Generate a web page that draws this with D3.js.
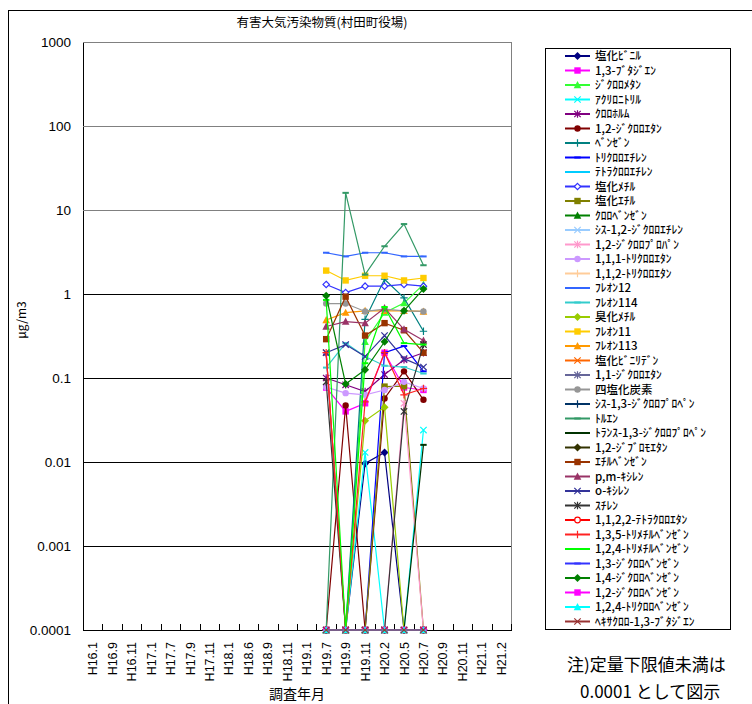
<!DOCTYPE html>
<html><head><meta charset="utf-8">
<script src="https://cdn.jsdelivr.net/npm/d3@7/dist/d3.min.js"></script>
<style>body{margin:0;background:#fff;} svg{display:block;}</style>
</head><body><svg id="c" width="752" height="704"></svg>
<script>
// ---- data ----
const title = "有害大気汚染物質(村田町役場)";
const categories = ["H16.1","H16.9","H16.11","H17.1","H17.7","H17.9","H17.11","H18.1","H18.6","H18.9","H18.11","H19.1","H19.7","H19.9","H19.11","H20.2","H20.5","H20.7","H20.9","H20.11","H21.1","H21.2"];
const measured = ["H19.7","H19.9","H19.11","H20.2","H20.5","H20.7"];
const yTicks = [0.0001,0.001,0.01,0.1,1,10,100,1000];
const yTickLabels = ["0.0001","0.001","0.01","0.1","1","10","100","1000"];
const seriesNames = ["塩化ﾋﾞﾆﾙ","1,3-ﾌﾞﾀｼﾞｴﾝ","ｼﾞｸﾛﾛﾒﾀﾝ","ｱｸﾘﾛﾆﾄﾘﾙ","ｸﾛﾛﾎﾙﾑ","1,2-ｼﾞｸﾛﾛｴﾀﾝ","ﾍﾞﾝｾﾞﾝ","ﾄﾘｸﾛﾛｴﾁﾚﾝ","ﾃﾄﾗｸﾛﾛｴﾁﾚﾝ","塩化ﾒﾁﾙ","塩化ｴﾁﾙ","ｸﾛﾛﾍﾞﾝｾﾞﾝ","ｼｽ-1,2-ｼﾞｸﾛﾛｴﾁﾚﾝ","1,2-ｼﾞｸﾛﾛﾌﾟﾛﾊﾟﾝ","1,1,1-ﾄﾘｸﾛﾛｴﾀﾝ","1,1,2-ﾄﾘｸﾛﾛｴﾀﾝ","ﾌﾚｵﾝ12","ﾌﾚｵﾝ114","臭化ﾒﾁﾙ","ﾌﾚｵﾝ11","ﾌﾚｵﾝ113","塩化ﾋﾞﾆﾘﾃﾞﾝ","1,1-ｼﾞｸﾛﾛｴﾀﾝ","四塩化炭素","ｼｽ-1,3-ｼﾞｸﾛﾛﾌﾟﾛﾍﾟﾝ","ﾄﾙｴﾝ","ﾄﾗﾝｽ-1,3-ｼﾞｸﾛﾛﾌﾟﾛﾍﾟﾝ","1,2-ｼﾞﾌﾞﾛﾓｴﾀﾝ","ｴﾁﾙﾍﾞﾝｾﾞﾝ","p,m-ｷｼﾚﾝ","o-ｷｼﾚﾝ","ｽﾁﾚﾝ","1,1,2,2-ﾃﾄﾗｸﾛﾛｴﾀﾝ","1,3,5-ﾄﾘﾒﾁﾙﾍﾞﾝｾﾞﾝ","1,2,4-ﾄﾘﾒﾁﾙﾍﾞﾝｾﾞﾝ","1,3-ｼﾞｸﾛﾛﾍﾞﾝｾﾞﾝ","1,4-ｼﾞｸﾛﾛﾍﾞﾝｾﾞﾝ","1,2-ｼﾞｸﾛﾛﾍﾞﾝｾﾞﾝ","1,2,4-ﾄﾘｸﾛﾛﾍﾞﾝｾﾞﾝ","ﾍｷｻｸﾛﾛ-1,3-ﾌﾞﾀｼﾞｴﾝ"];
// values at H19.7, H19.9, H19.11, H20.2, H20.5, H20.7 (below limit = 0.0001)
const s01 = [0.0001,0.0001,0.0096,0.013,0.0001,0.0001];
const s02 = [0.077,0.040,0.050,0.20,0.077,0.072];
const s03 = [0.0001,0.0001,0.27,0.60,0.78,1.3];
const s04 = [0.0001,0.0001,0.013,0.0001,0.0001,0.024];
const s05 = [0.10,0.083,0.069,0.11,0.165,0.20];
const s06 = [0.0001,0.047,0.0001,0.057,0.12,0.055];
const s07 = [0.0001,0.0001,0.5,1.5,0.9,0.36];
const s08 = [0.19,0.0001,0.0001,0.20,0.24,0.12];
const s09 = [0.0001,0.0001,0.0001,0.0001,0.0001,0.0001];
const s10 = [1.3,1.04,1.24,1.24,1.3,1.24];
const s11 = [0.0001,0.0001,0.0001,0.079,0.08,0.0001];
const s12 = [0.0001,0.0001,0.0001,0.0001,0.0001,0.0001];
const s13 = [0.0001,0.0001,0.0001,0.0001,0.0001,0.0001];
const s14 = [0.0001,0.0001,0.0001,0.0001,0.05,0.0001];
const s15 = [0.078,0.066,0.063,0.072,0.09,0.075];
const s16 = [0.0001,0.0001,0.0001,0.0001,0.0001,0.0001];
const s17 = [3.1,2.8,3.1,3.1,2.8,2.8];
const s18 = [0.133,0.26,0.18,0.14,0.135,0.113];
const s19 = [0.0001,0.0001,0.031,0.045,0.0001,0.0001];
const s20 = [1.9,1.45,1.65,1.65,1.45,1.55];
const s21 = [0.49,0.6,0.63,0.63,0.63,0.62];
const s22 = [0.2,0.0001,0.0001,0.0001,0.0001,0.0001];
const s23 = [0.0001,0.0001,0.0001,0.0001,0.0001,0.0001];
const s24 = [0.77,0.77,0.62,0.66,0.63,0.62];
const s25 = [0.0001,0.0001,0.0001,0.0001,0.0001,0.0001];
const s26 = [0.0001,16,1.7,3.7,6.8,2.2];
const s27 = [0.0001,0.0001,0.0001,0.0001,0.0001,0.016];
const s28 = [0.0001,0.0001,0.0001,0.0001,0.0001,0.0001];
const s29 = [0.29,0.93,0.32,0.45,0.37,0.2];
const s30 = [0.41,0.47,0.45,0.68,0.38,0.28];
const s31 = [0.2,0.25,0.18,0.32,0.17,0.135];
const s32 = [0.09,0.0001,0.0001,0.0001,0.04,0.25];
const s33 = [0.0001,0.0001,0.0001,0.0001,0.0001,0.0001];
const s34 = [0.2,0.0001,0.052,0.2,0.063,0.075];
const s35 = [0.85,0.0001,0.15,0.7,0.26,0.25];
const s36 = [0.0001,0.0001,0.0001,0.0001,0.0001,0.0001];
const s37 = [0.95,0.085,0.125,0.27,0.63,1.15];
const s38 = [0.0001,0.0001,0.0001,0.0001,0.0001,0.0001];
const s39 = [0.0001,0.0001,0.0001,0.0001,0.0001,0.0001];
const s40 = [0.0001,0.0001,0.0001,0.0001,0.0001,0.0001];
const seriesValues = [s01,s02,s03,s04,s05,s06,s07,s08,s09,s10,s11,s12,s13,s14,s15,s16,s17,s18,s19,s20,s21,s22,s23,s24,s25,s26,s27,s28,s29,s30,s31,s32,s33,s34,s35,s36,s37,s38,s39,s40];

// ---- styles ----
const colors = ["#000080","#FF00FF","#33FF33","#00FFFF","#800080","#800000","#008080","#0000FF","#00CCFF","#3333FF","#808000","#008000","#99CCFF","#FF99CC","#CC99FF","#FFCC99","#3366FF","#33CCCC","#99CC00","#FFCC00","#FF9900","#FF6600","#666699","#969696","#003366","#339966","#003300","#333300","#993300","#993366","#333399","#333333","#FF0000","#FF2222","#00FF00","#3333FF","#008000","#FF00FF","#00FFFF","#993333"];
const markers = ["diamond","square","triangle","x","asterisk","circle","plus","dash","dash","odiamond","square","triangle","x","asterisk","circle","plus","dash","dash","diamond","square","triangle","x","asterisk","circle","plus","dash","dash","diamond","square","triangle","x","asterisk","ocircle","plus","dash","dash","diamond","square","triangle","x"];

const svg = d3.select("#c");
const JP = "'Noto Sans CJK JP', sans-serif";
const NUM = "'Liberation Sans', Arial, sans-serif";
const P = {l:83, r:511, t:42, b:630};

const x = d3.scaleBand().domain(categories).range([P.l, P.r]);
const y = d3.scaleLog().domain([0.0001, 1000]).range([P.b, P.t]);
const bw = x.bandwidth();

// outer frame
svg.append("rect").attr("x",8.5).attr("y",10.5).attr("width",800).attr("height",800)
  .attr("fill","#fff").attr("stroke","#000").attr("stroke-width",1);

// title
svg.append("text").attr("x",322).attr("y",27).attr("text-anchor","middle")
  .style("font-family",JP).style("font-size","12.5px").text(title);

// plot area
svg.append("rect").attr("x",P.l).attr("y",P.t).attr("width",P.r-P.l).attr("height",P.b-P.t)
  .attr("fill","#fff").attr("stroke","#808080").attr("shape-rendering","crispEdges");

// y axis with gridlines
const yAxis = d3.axisLeft(y).tickValues(yTicks).tickSize(-(P.r-P.l)).tickPadding(12)
  .tickFormat((d,i)=>yTickLabels[i]);
const gy = svg.append("g").attr("transform",`translate(${P.l},0)`).call(yAxis);
gy.select(".domain").attr("stroke","#000").attr("shape-rendering","crispEdges");
gy.selectAll(".tick line").attr("stroke",(d)=> (d>=10 ? "#808080" : "#000")).attr("shape-rendering","crispEdges");
gy.selectAll(".tick text").style("font-family",NUM).style("font-size","13.5px").attr("fill","#000");

// x axis
const xAxis = d3.axisBottom(x).tickSize(0).tickPadding(0);
const gx = svg.append("g").attr("transform",`translate(0,${P.b})`).call(xAxis);
gx.select(".domain").attr("stroke","#000").attr("shape-rendering","crispEdges");
gx.selectAll(".tick text").attr("transform","rotate(-90)").attr("text-anchor","end")
  .attr("x",-12).attr("y",0).attr("dy","0.36em")
  .style("font-family",NUM).style("font-size","12.5px").attr("fill","#000");
// boundary tick marks (inside)
const bounds = categories.map(c=>x(c)).concat([x(categories[categories.length-1])+bw]);
svg.append("g").selectAll("line").data(bounds).join("line")
  .attr("x1",d=>Math.round(d)+0.5).attr("x2",d=>Math.round(d)+0.5)
  .attr("y1",P.b-6).attr("y2",P.b).attr("stroke","#000");

// axis titles
svg.append("text").attr("transform","translate(26,320) rotate(-90)").attr("text-anchor","middle")
  .style("font-family",JP).style("font-size","12px").text("μg/m3");
svg.append("text").attr("x",297).attr("y",699).attr("text-anchor","middle")
  .style("font-family",JP).style("font-size","14px").text("調査年月");

// marker drawing
function marker(g, type, color, cx, cy) {
  const r = 3.2;
  const t = `translate(${cx},${cy})`;
  switch(type){
    case "diamond": g.append("path").attr("transform",t).attr("d",`M0,${-r-0.8}L${r+0.8},0L0,${r+0.8}L${-r-0.8},0Z`).attr("fill",color); break;
    case "odiamond": g.append("path").attr("transform",t).attr("d",`M0,${-r}L${r},0L0,${r}L${-r},0Z`).attr("fill","#fff").attr("stroke",color).attr("stroke-width",1.2); break;
    case "square": g.append("rect").attr("x",cx-r).attr("y",cy-r).attr("width",2*r).attr("height",2*r).attr("fill",color); break;
    case "triangle": g.append("path").attr("transform",t).attr("d",`M0,${-r-0.8}L${r+0.6},${r}L${-r-0.6},${r}Z`).attr("fill",color); break;
    case "x": g.append("path").attr("transform",t).attr("d",`M${-r},${-r}L${r},${r}M${-r},${r}L${r},${-r}`).attr("stroke",color).attr("stroke-width",1.2); break;
    case "asterisk": g.append("path").attr("transform",t).attr("d",`M${-r},${-r}L${r},${r}M${-r},${r}L${r},${-r}M0,${-r-0.5}L0,${r+0.5}`).attr("stroke",color).attr("stroke-width",1.2); break;
    case "circle": g.append("circle").attr("cx",cx).attr("cy",cy).attr("r",r).attr("fill",color); break;
    case "ocircle": g.append("circle").attr("cx",cx).attr("cy",cy).attr("r",r-0.4).attr("fill","#fff").attr("stroke",color).attr("stroke-width",1.2); break;
    case "plus": g.append("path").attr("transform",t).attr("d",`M${-r-0.5},0L${r+0.5},0M0,${-r-0.5}L0,${r+0.5}`).attr("stroke",color).attr("stroke-width",1.2); break;
    case "dash": g.append("rect").attr("x",cx-r).attr("y",cy-1).attr("width",2*r).attr("height",2).attr("fill",color); break;
  }
}

// series
const line = d3.line().x(d=>d[0]).y(d=>d[1]);
const gs = svg.append("g");
seriesValues.forEach((vals,si)=>{
  const pts = measured.map((m,i)=>[x(m)+bw/2, y(vals[i])]);
  const g = gs.append("g");
  g.append("path").attr("d",line(pts)).attr("fill","none").attr("stroke",colors[si]).attr("stroke-width",1.2);
  pts.forEach(p=>marker(g, markers[si], colors[si], p[0], p[1]));
});

// legend
const L = {x:545, y:48, w:185, h:581};
svg.append("rect").attr("x",L.x+0.5).attr("y",L.y+0.5).attr("width",L.w).attr("height",L.h)
  .attr("fill","#fff").attr("stroke","#000");
const lg = svg.append("g");
seriesNames.forEach((n,i)=>{
  const yy = 56 + i*14.5;
  const g = lg.append("g");
  g.append("line").attr("x1",565).attr("x2",590).attr("y1",yy).attr("y2",yy).attr("stroke",colors[i]).attr("stroke-width",2);
  marker(g, markers[i], colors[i], 577.5, yy);
  g.append("text").attr("x",595).attr("y",yy).attr("dy","0.36em")
    .style("font-family",JP).style("font-size","11.5px").style("font-weight","500").text(n);
});

// note
svg.append("text").attr("x",567).attr("y",671).style("font-family",JP).style("font-size","17px").text("注)定量下限値未満は");
svg.append("text").attr("x",580).attr("y",698).style("font-family",JP).style("font-size","17px").text("0.0001 として図示");
</script></body></html>
